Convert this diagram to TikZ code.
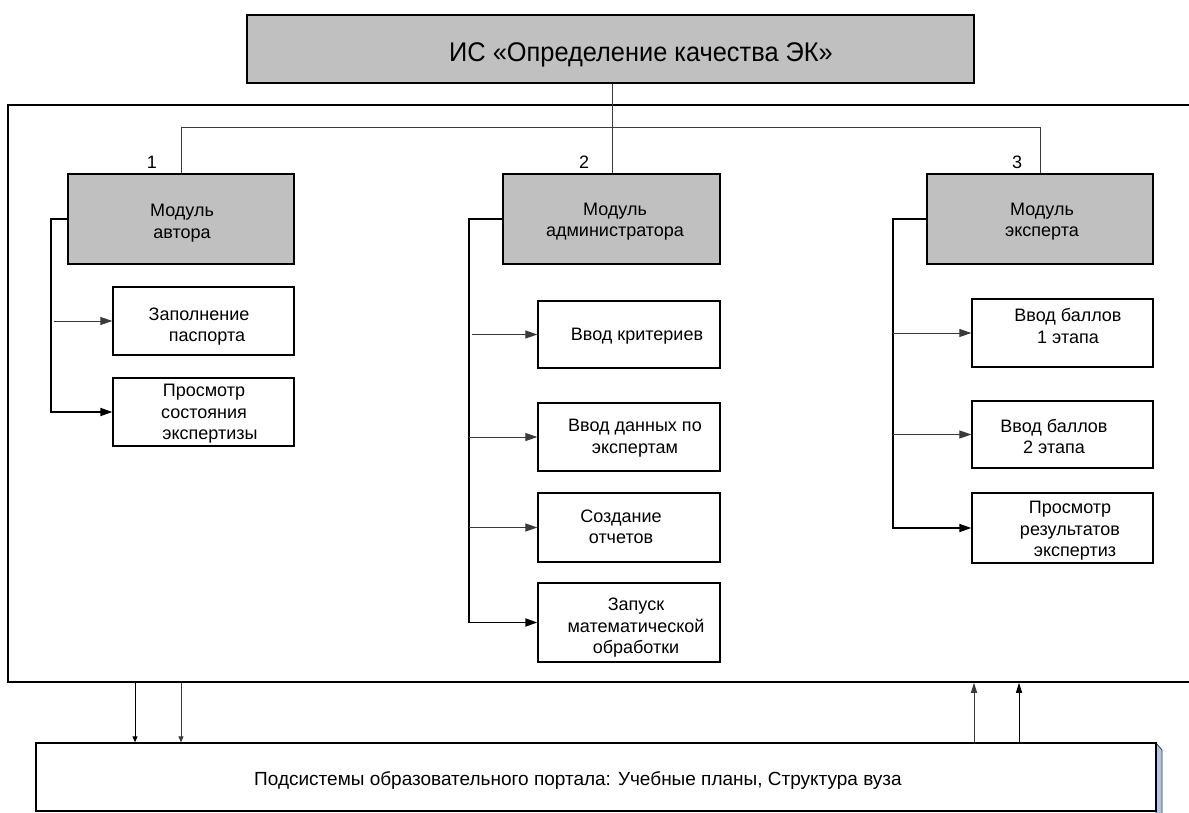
\documentclass[tikz,border=0pt]{standalone}
\usepackage{fontspec}
\setmainfont{Liberation Sans}
\newfontfamily\titlefont[FakeStretch=0.94]{Liberation Sans}
\usetikzlibrary{arrows.meta}
\definecolor{boxgray}{HTML}{C0C0C0}
\definecolor{shadowblue}{HTML}{B4C7E7}
\definecolor{thinline}{HTML}{3A3A3A}
\begin{document}
\begin{tikzpicture}[x=1pt,y=-1pt,
  graybox/.style={draw=black, line width=1.3pt, fill=boxgray, inner sep=0pt},
  whitebox/.style={draw=black, line width=1.3pt, fill=white, inner sep=0pt, minimum width=181pt},
  txt/.style={font=\fontsize{18}{21.5}\selectfont, align=center, inner sep=0pt},
  bus/.style={draw=thinline, line width=1pt},
  bracket/.style={draw=black, line width=1.8pt},
  tiparrow/.style={draw=thinline, line width=1pt, -{Triangle[length=12pt,width=8pt]}},
  bigtip/.style={-{Triangle[length=12pt,width=8pt]}},
  downarrow/.style={draw=black, line width=1pt, -{Triangle[length=6pt,width=5pt]}},
  uparrow/.style={draw=black, line width=1pt, -{Triangle[length=10pt,width=6pt]}}
]
\useasboundingbox (0,0) rectangle (1189,813);
\fill[white] (0,0) rectangle (1189,813);

% outer frame
\node[draw=black, line width=1.5pt, minimum width=1192pt, minimum height=577pt, inner sep=0pt] (frame) at (604,393.5) {};

% title
\node[graybox, minimum width=727pt, minimum height=68pt] (title) at (610.5,49) {};
\node[font=\titlefont\fontsize{27}{32}\selectfont, inner sep=0pt] (titletext) at (641,55) {ИС «Определение качества ЭК»};

% modules
\node[graybox, minimum width=226pt, minimum height=90pt] (m1) at (181,219) {};
\node[graybox, minimum width=217pt, minimum height=90pt] (m2) at (611.5,219) {};
\node[graybox, minimum width=226pt, minimum height=90pt] (m3) at (1040,219) {};
\node[txt] (m1t) at (182,223) {Модуль\\автора};
\node[txt] (m2t) at (615,221.5) {Модуль\\администратора};
\node[txt] (m3t) at (1042,221.5) {Модуль\\эксперта};
\node[txt] (n1) at (152,162) {1};
\node[txt] (n2) at (584,162) {2};
\node[txt] (n3) at (1017,162) {3};

% bus
\coordinate (busc) at (612,128);
\draw[bus] (title.south -| busc) -- (busc);
\draw[bus] (m1.north) -- (m1.north |- busc) -- (m3.north |- busc) -- (m3.north);
\draw[bus] (busc) -- (m2.north -| busc);

% author sub boxes
\node[whitebox, minimum height=68pt] (a1) at (203.5,321) {};
\node[whitebox, minimum height=68pt] (a2) at (203.5,412) {};
\node[txt] (a1t) at (199,326.5) {Заполнение\\\hspace*{16pt}паспорта};
\node[txt] (a2t) at (204,414) {Просмотр\\состояния\\\hspace*{12pt}экспертизы};

% admin sub boxes
\node[whitebox, minimum width=182pt, minimum height=67pt] (b1) at (629,334.5) {};
\node[whitebox, minimum width=182pt, minimum height=68pt] (b2) at (629,437) {};
\node[whitebox, minimum width=182pt, minimum height=69pt] (b3) at (629,527.5) {};
\node[whitebox, minimum width=182pt, minimum height=79pt] (b4) at (629,622.5) {};
\node[txt] (b1t) at (637,336) {Ввод критериев};
\node[txt] (b2t) at (635,438) {Ввод данных по\\экспертам};
\node[txt] (b3t) at (621,527) {Создание\\отчетов};
\node[txt] (b4t) at (636,628) {Запуск\\математической\\обработки};

% expert sub boxes
\node[whitebox, minimum height=68pt] (c1) at (1062.5,333) {};
\node[whitebox, minimum height=67pt] (c2) at (1062.5,434.5) {};
\node[whitebox, minimum height=70pt] (c3) at (1062.5,528) {};
\node[txt] (c1t) at (1068,326) {Ввод баллов\\1 этапа};
\node[txt] (c2t) at (1054,436.5) {Ввод баллов\\2 этапа};
\node[txt] (c3t) at (1070,531) {Просмотр\\результатов\\\hspace*{10pt}экспертиз};

% author brackets
\coordinate (ax) at (51,0);
\draw[bracket, bigtip] (m1.west) -- (m1.west -| ax) -- (a2.west -| ax) -- (a2.west);
\draw[tiparrow] (a1.west -| 54,0) -- (a1.west);

% admin brackets
\coordinate (bx) at (469,0);
\draw[bracket, bigtip] (m2.west) -- (m2.west -| bx) -- (b4.west -| bx) -- (b4.west);
\draw[tiparrow] (b1.west -| 472,0) -- (b1.west);
\draw[tiparrow] (b2.west -| bx) -- (b2.west);
\draw[tiparrow] (b3.west -| bx) -- (b3.west);

% expert brackets
\coordinate (cx) at (893,0);
\draw[bracket, bigtip] (m3.west) -- (m3.west -| cx) -- (c3.west -| cx) -- (c3.west);
\draw[tiparrow] (c1.west -| cx) -- (c1.west);
\draw[tiparrow] (c2.west -| cx) -- (c2.west);

% bottom box with shadow
\fill[shadowblue, draw=thinline, line width=0.8pt] (1156,743) -- (1162,750) -- (1162,820) -- (1156,820) -- cycle;
\node[draw=black, line width=1.3pt, fill=white, minimum width=1120pt, minimum height=68pt, inner sep=0pt] (sub) at (596,777) {};
\node[font=\fontsize{19}{22}\selectfont, inner sep=0pt] (subt) at (578,780) {Подсистемы образовательного портала: Учебные планы, Структура вуза};

% vertical arrows between frame and portal
\draw[downarrow] (frame.south -| 135,0) -- (sub.north -| 135,0);
\draw[downarrow, draw=thinline] (frame.south -| 181,0) -- (sub.north -| 181,0);
\draw[uparrow, draw=thinline] (sub.north -| 974,0) -- (frame.south -| 974,0);
\draw[uparrow] (sub.north -| 1019,0) -- (frame.south -| 1019,0);
\end{tikzpicture}
\end{document}
